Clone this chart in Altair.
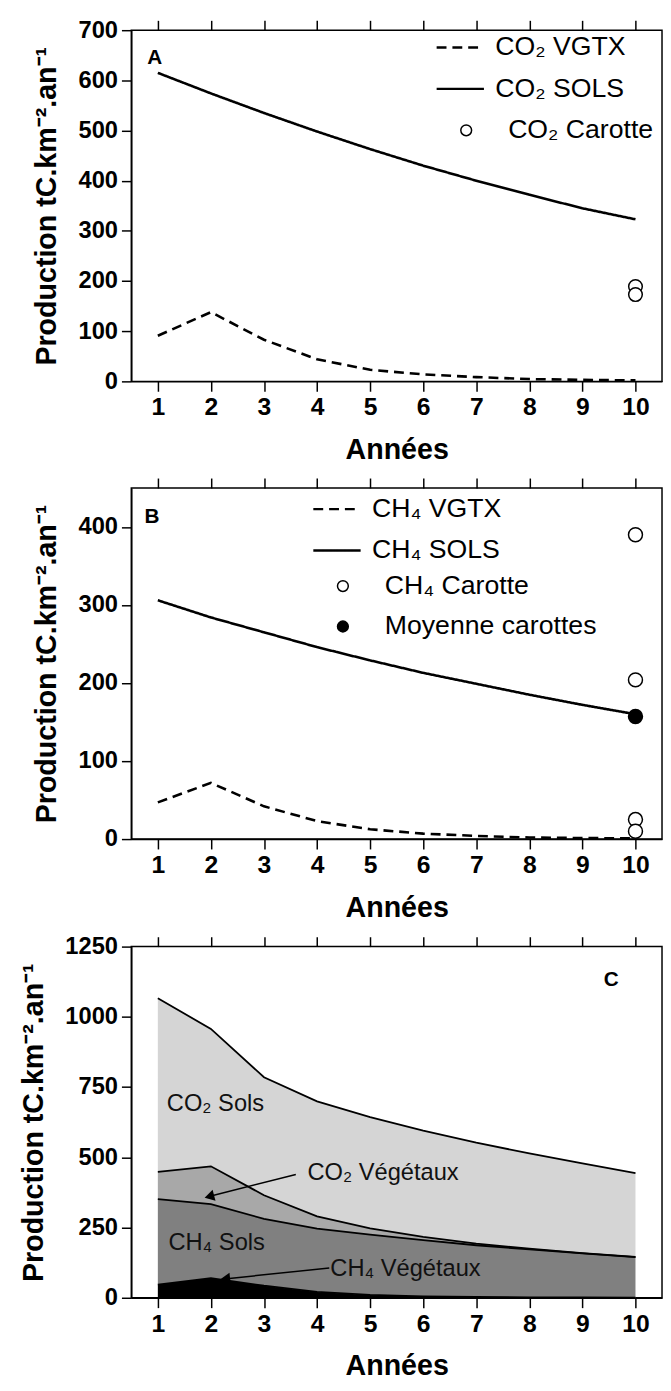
import altair as alt
import pandas as pd

FONT = "Liberation Sans"

annees = list(range(1, 11))

# Panneau A (CO2)
co2_vgtx = [91, 138, 83, 44, 23, 14, 8.5, 4.6, 3, 2]
co2_sols = [615, 574, 535, 498, 463, 430, 400, 372, 345, 323]
co2_carotte = [189, 173]

# Panneau B (CH4)
ch4_vgtx = [47, 72, 42, 23, 12.6, 7, 4, 2, 1.3, 1]
ch4_sols = [306, 284, 265, 246, 229, 213, 199, 185, 172, 160]
ch4_carotte = [390, 204, 25, 10]
ch4_moyenne = [157]

# Panneau C (cumul)
c_ch4_veg = [47, 70, 43, 21, 10, 5, 3, 1.5, 1, 0.5]
c_ch4_sols = [304, 263, 238, 225, 215, 200, 184, 170.5, 157, 144.5]
c_co2_veg = [97, 135, 84, 44, 22, 12, 6, 3, 1, 1]
c_co2_sols = [618, 489, 420, 409, 396, 378, 359, 339, 319, 298]
c_couches = ["CH₄ Végétaux", "CH₄ Sols", "CO₂ Végétaux", "CO₂ Sols"]
c_couleurs = ["#000000", "#808080", "#a8a8a8", "#d5d5d5"]

# Annotations du panneau C (coordonnées en unités de données)
c_labels = ["CO₂ Sols", "CO₂ Végétaux", "CH₄ Sols", "CH₄ Végétaux"]
c_label_x = [1.17, 3.82, 1.2, 4.25]
c_label_y = [690, 443, 195, 103]
fleche_x = [3.6, 4.23]
fleche_y = [439, 106]
fleche_x2 = [2.0, 2.3]
fleche_y2 = [362, 68]

W, H = 538, 356
XSCALE = alt.Scale(domain=[0.5, 10.5], nice=False, zero=False)
YTITLE = "Production tC.km⁻².an⁻¹"


def x_plain(field="annee"):
    return alt.X(f"{field}:Q", scale=XSCALE, axis=None)


def x_bottom():
    return alt.X("annee:Q", scale=XSCALE,
                 axis=alt.Axis(values=annees, format="d", title="Années",
                               labelPadding=4, titlePadding=16))


def y_axis(field, dom, step):
    return alt.Y(f"{field}:Q", scale=alt.Scale(domain=dom, nice=False),
                 axis=alt.Axis(values=list(range(0, dom[1] + 1, step)), format="d",
                               title=YTITLE, labelPadding=4, titlePadding=17))


def top_axis(df):
    return alt.Chart(df).mark_point(opacity=0).encode(
        x=alt.X("annee:Q", scale=XSCALE,
                axis=alt.Axis(orient="top", values=annees, labels=False, title=None,
                              domain=False))
    )


def line_legend(x, y):
    return alt.Legend(title=None, orient="none", legendX=x, legendY=y,
                      symbolType="stroke", symbolSize=2300, symbolStrokeWidth=2.5,
                      symbolStrokeColor="black", labelFont=FONT, labelFontSize=27,
                      labelFontWeight="normal", labelColor="black", labelLimit=0,
                      labelOffset=10, rowPadding=3, padding=0)


def point_legend(x, y, row_pad):
    return alt.Legend(title=None, orient="none", legendX=x, legendY=y,
                      symbolType="circle", symbolSize=120, symbolStrokeWidth=1.5,
                      symbolStrokeColor="black", symbolOffset=18, labelOffset=29,
                      labelFont=FONT, labelFontSize=27, labelFontWeight="normal",
                      labelColor="black", labelLimit=0, rowPadding=row_pad, padding=0)


def letter(txt, x, y):
    return alt.Chart(pd.DataFrame({"t": [txt]})).mark_text(
        font=FONT, fontSize=21, fontWeight="bold", color="black", align="left",
        baseline="middle").encode(x=x_plain("xx"), y=alt.Y("yy:Q"),
                                  text="t:N").transform_calculate(xx=str(x), yy=str(y))


# ---------- Panneau A ----------
dfA = pd.DataFrame({
    "annee": annees * 2,
    "valeur": co2_vgtx + co2_sols,
    "serie": ["CO₂ VGTX"] * 10 + ["CO₂ SOLS"] * 10,
})
ptsA = pd.DataFrame({"annee": [10] * len(co2_carotte), "valeur": co2_carotte,
                     "type": ["CO₂ Carotte"] * len(co2_carotte)})

linesA = alt.Chart(dfA).mark_line(color="black", strokeWidth=2.6).encode(
    x=x_bottom(), y=y_axis("valeur", [0, 700], 100),
    strokeDash=alt.StrokeDash("serie:N",
                              scale=alt.Scale(domain=["CO₂ VGTX", "CO₂ SOLS"],
                                              range=[[10, 6], [1, 0]]),
                              legend=line_legend(308, -8)),
    detail="serie:N",
)
pointsA = alt.Chart(ptsA).mark_point(filled=True, stroke="black", strokeWidth=1.5,
                                     size=190, opacity=1).encode(
    x=x_plain(), y="valeur:Q",
    fill=alt.Fill("type:N", scale=alt.Scale(domain=["CO₂ Carotte"], range=["white"]),
                  legend=point_legend(308, 88, 10)),
)
panelA = alt.layer(linesA, pointsA, letter("A", 0.8, 645), top_axis(dfA)).resolve_axis(
    x="independent").properties(width=W, height=H)

# ---------- Panneau B ----------
dfB = pd.DataFrame({
    "annee": annees * 2,
    "valeur": ch4_vgtx + ch4_sols,
    "serie": ["CH₄ VGTX"] * 10 + ["CH₄ SOLS"] * 10,
})
ptsB = pd.DataFrame({
    "annee": [10] * (len(ch4_carotte) + len(ch4_moyenne)),
    "valeur": ch4_carotte + ch4_moyenne,
    "type": ["CH₄ Carotte"] * len(ch4_carotte) + ["Moyenne carottes"] * len(ch4_moyenne),
})
linesB = alt.Chart(dfB).mark_line(color="black", strokeWidth=2.6).encode(
    x=x_bottom(), y=y_axis("valeur", [0, 450], 50),
    strokeDash=alt.StrokeDash("serie:N",
                              scale=alt.Scale(domain=["CH₄ VGTX", "CH₄ SOLS"],
                                              range=[[10, 6], [1, 0]]),
                              legend=line_legend(183, -4)),
    detail="serie:N",
)
pointsB = alt.Chart(ptsB).mark_point(filled=True, stroke="black", strokeWidth=1.5,
                                     size=200, opacity=1).encode(
    x=x_plain(), y="valeur:Q",
    fill=alt.Fill("type:N", scale=alt.Scale(domain=["CH₄ Carotte", "Moyenne carottes"],
                                            range=["white", "black"]),
                  legend=point_legend(183, 86, 13)),
)
panelB = alt.layer(linesB, pointsB, letter("B", 0.75, 412), top_axis(dfB)).resolve_axis(
    x="independent").properties(width=W, height=H)

# ---------- Panneau C ----------
dfC = pd.DataFrame({
    "annee": annees * 4,
    "valeur": c_ch4_veg + c_ch4_sols + c_co2_veg + c_co2_sols,
    "couche": sum([[c] * 10 for c in c_couches], []),
    "rang": sum([[i] * 10 for i in range(4)], []),
})
baseC = alt.Chart(dfC).transform_stack(
    stack="valeur", as_=["bas", "haut"], groupby=["annee"],
    sort=[alt.SortField("rang", order="ascending")])
areasC = baseC.mark_area(opacity=1).encode(
    x=x_bottom(),
    y=y_axis("haut", [0, 1250], 250),
    y2="bas:Q",
    color=alt.Color("couche:N", scale=alt.Scale(domain=c_couches, range=c_couleurs),
                    legend=None),
    detail="couche:N",
)
linesC = baseC.mark_line(color="black", strokeWidth=1.8).encode(
    x=x_plain(), y="haut:Q", detail="couche:N")
dfLab = pd.DataFrame({"annee": c_label_x, "valeur": c_label_y, "t": c_labels})
labelsC = alt.Chart(dfLab).mark_text(font=FONT, fontSize=24, color="#111111",
                                     align="left", baseline="middle").encode(
    x=x_plain(), y="valeur:Q", text="t:N")
dfFl = pd.DataFrame({"annee": fleche_x, "valeur": fleche_y,
                     "annee2": fleche_x2, "valeur2": fleche_y2,
                     "angle": [255, 264]})
rulesC = alt.Chart(dfFl).mark_rule(color="black", strokeWidth=1.5).encode(
    x=x_plain(), y="valeur:Q", x2="annee2:Q", y2="valeur2:Q")
headsC = alt.Chart(dfFl).mark_point(shape="triangle", filled=True, color="black",
                                    size=130, opacity=1).encode(
    x=x_plain("annee2"), y="valeur2:Q",
    angle=alt.Angle("angle:Q", scale=None))
panelC = alt.layer(areasC, linesC, labelsC, rulesC, headsC, letter("C", 9.4, 1131),
                   top_axis(dfC)).resolve_axis(x="independent").properties(
    width=W, height=H)

chart = alt.vconcat(panelA, panelB, panelC, spacing=11).resolve_scale(
    strokeDash="independent", fill="independent", color="independent", y="independent"
).resolve_legend(strokeDash="independent", fill="independent").properties(
    padding={"left": 10, "right": 0, "top": 0, "bottom": 0}
).configure_view(stroke="black", strokeWidth=1.5).configure_axis(
    labelFont=FONT, labelFontSize=24, labelFontWeight="bold", labelColor="black",
    titleFont=FONT, titleFontSize=29, titleFontWeight="bold", titleColor="black",
    tickColor="black", domainColor="black", tickWidth=1.5, domainWidth=1.5,
    tickSize=10, grid=False,
).configure_axisX(labelFontSize=25, titleFontSize=29)

chart.save("out.html", embed_options={"renderer": "svg", "actions": False})
